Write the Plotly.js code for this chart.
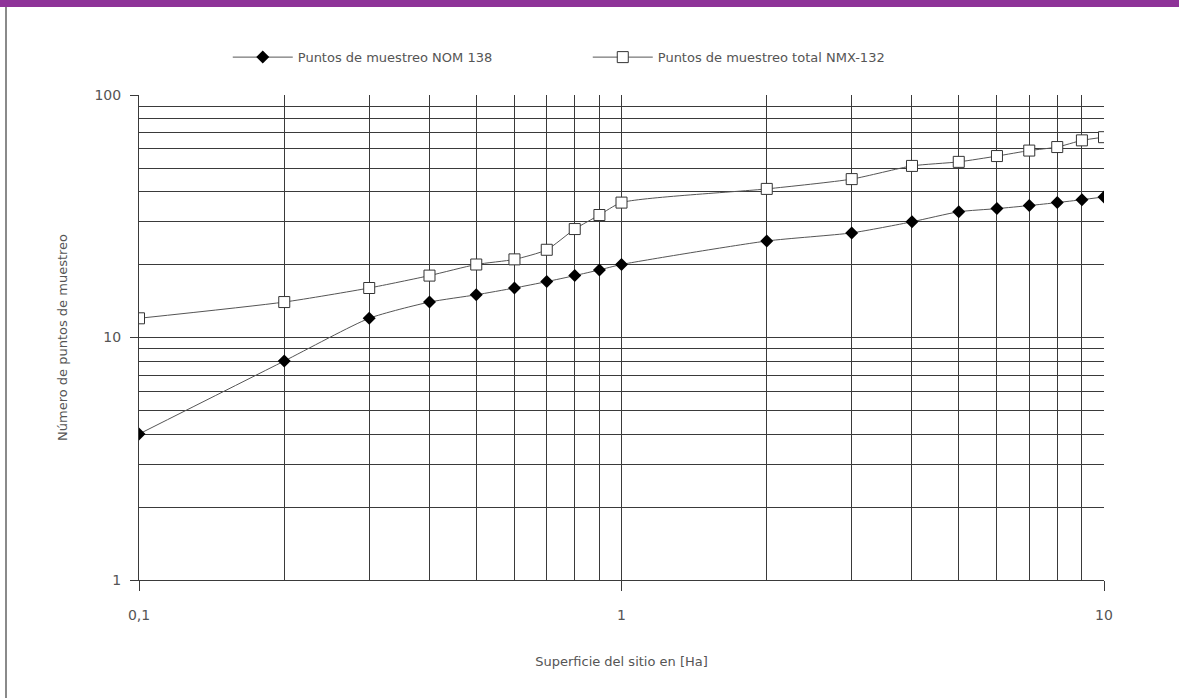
<!DOCTYPE html>
<html>
<head>
<meta charset="utf-8">
<script src="https://cdn.plot.ly/plotly-3.0.1.min.js"></script>
<style>
html,body{margin:0;padding:0;background:#fff;}
#wrap{position:relative;width:1179px;height:698px;overflow:hidden;}
#chart{position:absolute;left:0;top:0;width:1179px;height:698px;}
#topbar{position:absolute;left:0;top:0;width:1179px;height:7px;background:#8e3398;}
#leftbar{position:absolute;left:5px;top:7px;width:2px;height:691px;background:#8a8a8a;}
</style>
</head>
<body>
<div id="wrap">
<div id="chart"></div>
<div id="topbar"></div>
<div id="leftbar"></div>
</div>
<script>
const superficie = [0.1,0.2,0.3,0.4,0.5,0.6,0.7,0.8,0.9,1,2,3,4,5,6,7,8,9,10];
const nom138 = [4,8,12,14,15,16,17,18,19,20,25,27,30,33,34,35,36,37,38];
const nmx132 = [12,14,16,18,20,21,23,28,32,36,41,45,51,53,56,59,61,65,67];
const serieNames = ["Puntos de muestreo NOM 138","Puntos de muestreo total NMX-132"];
const xMajor = [0.1,1,10];
const xMajorText = ["0,1","1","10"];
const xMinor = [0.2,0.3,0.4,0.5,0.6,0.7,0.8,0.9,2,3,4,5,6,7,8,9];
const yMajor = [1,10,100];
const yMajorText = ["1","10","100"];
const yMinor = [2,3,4,5,6,7,8,9,20,30,40,50,60,70,80,90];

const gridCol = "#3a3a3a";
const txtCol = "#555";

const traces = [
  {x: superficie, y: nom138, name: serieNames[0], mode: "lines+markers",
   line: {color: "#555", width: 1, shape: "spline", smoothing: 0.6},
   marker: {symbol: "diamond", size: 10, color: "#000", line: {color: "#000", width: 0}}},
  {x: superficie, y: nmx132, name: serieNames[1], mode: "lines+markers",
   line: {color: "#555", width: 1, shape: "spline", smoothing: 0.6},
   marker: {symbol: "square", size: 11, color: "#fff", line: {color: "#333", width: 1}}}
];

const layout = {
  width: 1179, height: 698,
  margin: {l: 139, r: 75, t: 95, b: 118},
  paper_bgcolor: "#fff", plot_bgcolor: "#fff",
  font: {family: "DejaVu Sans, Verdana, sans-serif", size: 13, color: txtCol},
  showlegend: true,
  legend: {orientation: "h", x: 0.092, xanchor: "left", y: 1.078, yanchor: "middle",
           font: {size: 13, color: txtCol}, entrywidth: 285, entrywidthmode: "pixels",
           itemwidth: 60, tracegroupgap: 0},
  xaxis: {type: "log", range: [-1, 1],
    tickvals: xMajor, ticktext: xMajorText, ticks: "outside", ticklen: 10, tickcolor: gridCol,
    ticklabelstandoff: 12,
    showgrid: true, gridcolor: gridCol, gridwidth: 1,
    minor: {tickvals: xMinor, showgrid: true, gridcolor: gridCol, gridwidth: 1, ticks: ""},
    showline: true, linecolor: gridCol, linewidth: 1, mirror: false, zeroline: false,
    tickfont: {size: 14, color: txtCol},
    title: {text: "Superficie del sitio en [Ha]", font: {size: 13, color: txtCol}, standoff: 35}},
  yaxis: {type: "log", range: [0, 2],
    tickvals: yMajor, ticktext: yMajorText, ticks: "outside", ticklen: 8, tickcolor: gridCol,
    ticklabelstandoff: 6,
    showgrid: true, gridcolor: gridCol, gridwidth: 1,
    minor: {tickvals: yMinor, showgrid: true, gridcolor: gridCol, gridwidth: 1, ticks: ""},
    showline: true, linecolor: gridCol, linewidth: 1, zeroline: false,
    tickfont: {size: 14, color: txtCol},
    title: {text: "Número de puntos de muestreo", font: {size: 13, color: txtCol}, standoff: 23}}
};

Plotly.newPlot("chart", traces, layout, {displayModeBar: false, staticPlot: true});
</script>
</body>
</html>
